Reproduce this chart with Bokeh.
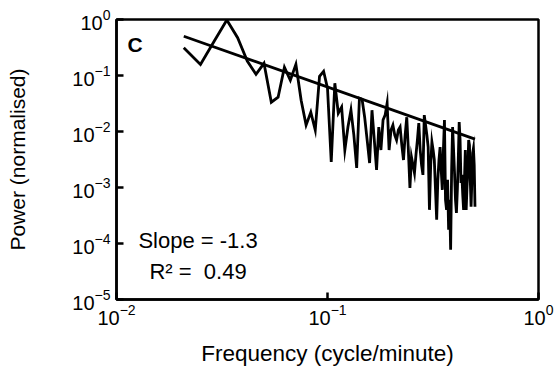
from bokeh.plotting import figure
from bokeh.models import Label, FixedTicker
from bokeh.embed import file_html
from bokeh.resources import INLINE
import numpy as np

# Frequencies: k/240 cycle/minute, k = 5..120
freq_index = list(range(5, 121))
freq_step = 1.0 / 240.0
power = [
    0.313, 0.158, 0.423, 0.98, 0.472, 0.181, 0.105, 0.165, 0.0333, 0.0409,
    0.140, 0.0822, 0.158, 0.0362, 0.0130, 0.0221, 0.0106, 0.0968, 0.119, 0.0592,
    0.00286, 0.0727, 0.0212, 0.0272, 0.00467, 0.0120, 0.0240, 0.00863, 0.00223, 0.0393,
    0.0377, 0.0180, 0.00703, 0.00274, 0.0240, 0.00703, 0.00206, 0.0120, 0.00467, 0.0160,
    0.0196, 0.0320, 0.00467, 0.0106, 0.0130, 0.00863, 0.00703, 0.0106, 0.0120, 0.00573,
    0.00310, 0.00863, 0.0180, 0.00467, 0.000984, 0.00350, 0.00252, 0.00182, 0.00380, 0.00703,
    0.0141, 0.00467, 0.00252, 0.00168, 0.0196, 0.0130, 0.00863, 0.00528, 0.000399, 0.00252,
    0.00648, 0.00467, 0.00310, 0.000906, 0.000265, 0.00137, 0.00310, 0.00528, 0.00206, 0.000906,
    0.00467, 0.0160, 0.000601, 0.000399, 0.00137, 0.000176, 0.000601, 0.0000776, 0.00206, 0.0120,
    0.00467, 0.00182, 0.000601, 0.000353, 0.000906, 0.00310, 0.0147, 0.00703, 0.00121, 0.00168,
    0.000738, 0.000399, 0.00137, 0.00467, 0.000399, 0.00103, 0.00206, 0.00703, 0.00573, 0.00137,
    0.000452, 0.00137, 0.00413, 0.00499, 0.00252, 0.000452,
]
fit_slope = -1.33
fit_log_intercept = -2.536

x_ticks = [0.01, 0.1, 1.0]
y_ticks = [1e-5, 1e-4, 1e-3, 1e-2, 1e-1, 1.0]

freq = [k * freq_step for k in freq_index]
fit_x = [freq[0], freq[-1]]
fit_y = [10 ** (fit_log_intercept + fit_slope * np.log10(f)) for f in fit_x]

FONT = "Liberation Sans"

p = figure(width=555, height=368, x_axis_type="log", y_axis_type="log",
           x_range=(0.01, 1.0), y_range=(1e-5, 1.0),
           output_backend="svg", toolbar_location=None,
           min_border_left=116, min_border_right=17,
           min_border_top=19, min_border_bottom=68)

p.line(freq, power, line_color="black", line_width=2.8, line_join="miter")
p.line(fit_x, fit_y, line_color="black", line_width=2.8)

p.xgrid.visible = False
p.ygrid.visible = False
p.outline_line_color = "black"
p.outline_line_width = 2.5
p.background_fill_color = "white"
p.border_fill_color = "white"

for ax in (p.xaxis[0], p.yaxis[0]):
    ax.axis_line_width = 2.5
    ax.major_tick_in = 7
    ax.major_tick_out = 0
    ax.major_tick_line_width = 2.5
    ax.minor_tick_line_color = None
    ax.major_label_text_font = FONT
    ax.major_label_text_font_size = "20px"
    ax.major_label_text_color = "black"
    ax.axis_label_text_font = FONT
    ax.axis_label_text_font_style = "normal"
    ax.axis_label_text_color = "black"

p.xaxis.axis_label_text_font_size = "22.5px"
p.yaxis.axis_label_text_font_size = "21px"
p.xaxis.ticker = FixedTicker(ticks=x_ticks)
p.yaxis.ticker = FixedTicker(ticks=y_ticks)
p.xaxis.axis_label = "Frequency (cycle/minute)"
p.yaxis.axis_label = "Power (normalised)"
p.xaxis.major_label_standoff = 4
p.yaxis.major_label_standoff = 6
p.xaxis.axis_label_standoff = 13
p.yaxis.axis_label_standoff = 40

p.add_layout(Label(x=0.01127, y=0.22, text="C", text_font=FONT, text_color="black",
                   text_font_size="21px", text_font_style="bold"))
p.add_layout(Label(x=0.0127, y=6.86e-5, text="Slope = -1.3", text_font=FONT,
                   text_color="black", text_font_size="22px"))
p.add_layout(Label(x=0.01432, y=1.93e-5, text="R² =\u00a0 0.49", text_font=FONT,
                   text_color="black", text_font_size="22px"))

open("out.html", "w").write(file_html(p, INLINE))
